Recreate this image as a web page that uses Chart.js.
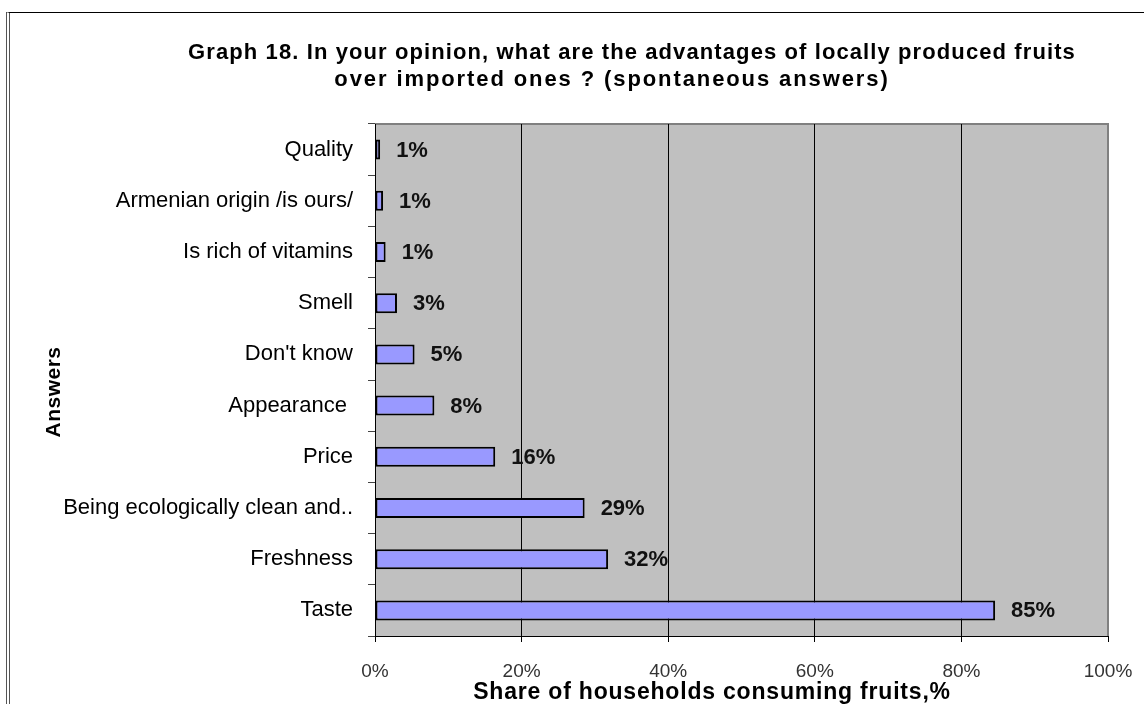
<!DOCTYPE html>
<html>
<head>
<meta charset="utf-8">
<script src="https://cdn.jsdelivr.net/npm/chart.js@4/dist/chart.umd.min.js"></script>
<style>
  html, body { margin: 0; padding: 0; background: #fff; }
  #wrap { position: relative; width: 1144px; height: 704px; overflow: hidden; }
  #frame {
    position: absolute; left: 6px; top: 12px; right: -20px; bottom: -20px;
    border-top: 1px solid #000; border-left: 4px double #555;
    pointer-events: none;
  }
  canvas { position: absolute; left: 0; top: 0; }
</style>
</head>
<body>
<div id="wrap">
  <canvas id="chart" width="1144" height="704"></canvas>
  <div id="frame"></div>
</div>
<script>
// Answer categories, top to bottom
const categories = [
  'Quality',
  'Armenian origin /is ours/',
  'Is rich of vitamins',
  'Smell',
  "Don't know",
  'Appearance ',
  'Price',
  'Being ecologically clean and..',
  'Freshness',
  'Taste'
];
// Share of households (%) naming each advantage
const shares = [0.7, 1.1, 1.45, 3.0, 5.4, 8.1, 16.4, 28.6, 31.8, 84.6];
// Percent axis ticks
const xTicks = [0, 20, 40, 60, 80, 100];

const titleLines = [
  'Graph 18. In your opinion, what are the advantages of locally produced fruits',
  'over imported ones ? (spontaneous answers)'
];
const xTitle = 'Share of households consuming fruits,%';
const yTitle = 'Answers';

const FONT = 'Arial, "Liberation Sans", sans-serif';

// grey plot background with a thin grey frame
const plotBackground = {
  id: 'plotBackground',
  beforeDraw(chart) {
    const { ctx, chartArea: a } = chart;
    ctx.save();
    ctx.fillStyle = '#C0C0C0';
    ctx.fillRect(a.left, a.top, a.right - a.left, a.bottom - a.top);
    ctx.strokeStyle = '#808080';
    ctx.lineWidth = 2;
    ctx.beginPath();
    ctx.moveTo(a.left, a.top);
    ctx.lineTo(a.right, a.top);
    ctx.lineTo(a.right, a.bottom);
    ctx.stroke();
    ctx.restore();
  }
};

// percentage labels to the right of each bar
const barLabels = {
  id: 'barLabels',
  afterDatasetsDraw(chart) {
    const { ctx } = chart;
    const meta = chart.getDatasetMeta(0);
    ctx.save();
    ctx.font = 'bold 22px ' + FONT;
    ctx.fillStyle = '#111';
    ctx.textAlign = 'left';
    ctx.textBaseline = 'middle';
    meta.data.forEach((bar, i) => {
      const v = chart.data.datasets[0].data[i];
      ctx.fillText(Math.round(v) + '%', bar.x + 16, bar.y + 1);
    });
    ctx.restore();
  }
};

// chart title and both axis titles
const titles = {
  id: 'titles',
  afterDraw(chart) {
    const { ctx } = chart;
    ctx.save();
    ctx.fillStyle = '#000';
    ctx.textAlign = 'center';
    ctx.textBaseline = 'alphabetic';
    ctx.font = 'bold 22px ' + FONT;
    ctx.letterSpacing = '1.1px';
    ctx.fillText(titleLines[0], 632, 59);
    ctx.letterSpacing = '1.9px';
    ctx.fillText(titleLines[1], 612, 86);

    ctx.font = 'bold 23px ' + FONT;
    ctx.letterSpacing = '0.8px';
    ctx.fillText(xTitle, 712, 699);

    ctx.font = 'bold 21px ' + FONT;
    ctx.letterSpacing = '0.5px';
    ctx.translate(60, 392);
    ctx.rotate(-Math.PI / 2);
    ctx.fillText(yTitle, 0, 0);
    ctx.restore();
  }
};

new Chart(document.getElementById('chart'), {
  type: 'bar',
  data: {
    labels: categories,
    datasets: [{
      data: shares,
      backgroundColor: '#9999FF',
      borderColor: '#000',
      borderWidth: 2,
      borderSkipped: false,
      categoryPercentage: 1,
      barPercentage: 0.39
    }]
  },
  options: {
    indexAxis: 'y',
    responsive: false,
    animation: false,
    layout: { padding: { top: 124, right: 36, left: 0, bottom: 0 } },
    plugins: {
      legend: { display: false },
      tooltip: { enabled: false },
      title: { display: false }
    },
    scales: {
      x: {
        type: 'linear',
        min: 0,
        max: 100,
        afterBuildTicks(scale) {
          scale.ticks = xTicks.map(v => ({ value: v }));
        },
        afterFit(scale) {
          scale.height = 68;
          scale.paddingLeft = 0;
          scale.paddingRight = 0;
        },
        ticks: {
          callback: v => v + '%',
          font: { family: FONT, size: 19 },
          color: '#333',
          padding: 18,
          maxRotation: 0
        },
        grid: {
          color: ctx => (ctx.tick && ctx.tick.value === 100 ? '#808080' : '#000'),
          lineWidth: 1,
          drawTicks: true,
          tickLength: 6,
          tickColor: '#000'
        },
        border: { display: true, color: '#000', width: 1 }
      },
      y: {
        type: 'category',
        afterFit(scale) {
          scale.width = 375;
          scale.paddingTop = 0;
          scale.paddingBottom = 0;
        },
        ticks: {
          font: { family: FONT, size: 22 },
          color: '#000',
          padding: 15,
          autoSkip: false
        },
        grid: {
          drawOnChartArea: false,
          drawTicks: true,
          tickLength: 7,
          tickColor: '#444',
          offset: true
        },
        border: { display: true, color: '#000', width: 1 }
      }
    }
  },
  plugins: [plotBackground, barLabels, titles]
});
</script>
</body>
</html>
